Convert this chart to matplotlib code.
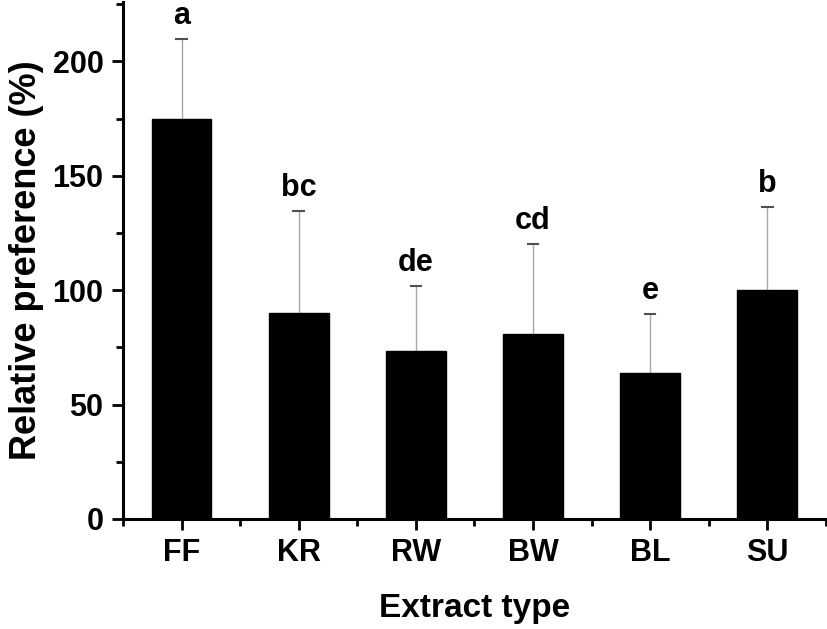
import matplotlib.pyplot as plt
from matplotlib.ticker import FixedLocator

plt.rcParams['font.family'] = ['Liberation Sans', 'DejaVu Sans']
plt.rcParams['font.weight'] = 'bold'

categories = ['FF', 'KR', 'RW', 'BW', 'BL', 'SU']
means = [175, 90, 73.5, 81, 64, 100]
errors = [35, 44.5, 28.5, 39, 25.5, 36.5]
letters = ['a', 'bc', 'de', 'cd', 'e', 'b']

fig = plt.figure(figsize=(8.27, 6.29), dpi=100)
ax = fig.add_axes([0.1487, 0.1749, 0.85, 0.822])

x = range(len(categories))
ax.bar(x, means, width=0.51, color='black', edgecolor='black', zorder=2)
ax.errorbar(x, means, yerr=[[0] * len(means), errors], fmt='none',
            ecolor='#a8a8a8', elinewidth=1.0, capsize=0, zorder=1)
# darker caps and significance letters
for i, (m, e) in enumerate(zip(means, errors)):
    ax.plot([i - 0.045, i + 0.045], [m + e, m + e], color='#505050', lw=1.5, zorder=3)
    ax.text(i, m + e + 3.5, letters[i], ha='center', va='bottom',
            fontsize=22, fontweight='bold')

ax.set_xlim(-0.5, 5.5)
ax.set_ylim(0, 226)
ax.set_xticks(list(x))
ax.set_xticklabels(categories)
ax.xaxis.set_minor_locator(FixedLocator([i - 0.5 for i in range(len(categories) + 1)]))
ax.yaxis.set_major_locator(FixedLocator([0, 50, 100, 150, 200]))
ax.yaxis.set_minor_locator(FixedLocator([25, 75, 125, 175, 225]))

for s in ['top', 'right']:
    ax.spines[s].set_visible(False)
for s in ['left', 'bottom']:
    ax.spines[s].set_linewidth(2.2)

ax.tick_params(which='major', direction='out', length=8, width=2, labelsize=22, pad=6)
ax.tick_params(which='minor', direction='out', length=5, width=2)
for lab in ax.get_xticklabels() + ax.get_yticklabels():
    lab.set_fontweight('bold')

ax.set_ylabel('Relative preference (%)', fontsize=26, fontweight='bold', labelpad=6)
ax.set_xlabel('Extract type', fontsize=24, fontweight='bold', labelpad=18)

fig.savefig('out.png', dpi=100)
